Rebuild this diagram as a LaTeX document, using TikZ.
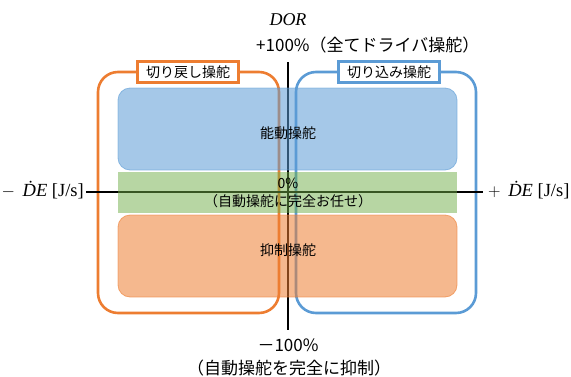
\documentclass[tikz,border=0pt]{standalone}
\usepackage{fontspec}
\setmainfont{Noto Sans CJK JP}
\newfontfamily\jp{Noto Sans CJK JP}
\newfontfamily\srf{Liberation Serif}
\definecolor{cblue}{HTML}{5B9BD5}
\definecolor{corange}{HTML}{ED7D31}
\definecolor{cgreen}{HTML}{70AD47}
\begin{document}
\begin{tikzpicture}[x=1pt,y=-1pt,
  outerbox/.style={line width=2.6pt,rounded corners=20pt},
  innerbox/.style={fill opacity=0.55,draw opacity=0.6,line width=0.8pt},
  tagbox/.style={draw,fill=white,line width=2.2pt,minimum width=101pt,minimum height=21pt,inner sep=0pt,font=\jp\fontsize{14}{16}\selectfont},
  midtxt/.style={font=\jp\fontsize{14}{16}\selectfont,inner sep=0pt},
  axtxt/.style={font=\jp\fontsize{17}{19}\selectfont,inner sep=0pt},
  sidetxt/.style={inner sep=0pt,font=\srf\fontsize{18.5}{20}\selectfont},
  axline/.style={line width=1.3pt}]
\useasboundingbox (0,0) rectangle (571,376);
% outer regions
\draw[outerbox,corange] (98,72) rectangle (279,313);
\draw[outerbox,cblue] (296,72) rectangle (476,313);
% axes
\coordinate (xl) at (86,192);
\coordinate (xr) at (483,192);
\coordinate (yt) at (288,62);
\coordinate (yb) at (288,330);
\draw[axline] (xl) -- (xr);
\draw[axline] (yt) -- (yb);
% inner boxes
\draw[innerbox,fill=cblue,draw=cblue,rounded corners=12pt] (118,88) rectangle (457,170);
\fill[fill=cgreen,fill opacity=0.5] (118,172) rectangle (457,213);
\draw[innerbox,fill=corange,draw=corange,rounded corners=12pt] (118,215) rectangle (457,297);
% texts in boxes
\node[midtxt] (nodo) at (288,133) {能動操舵};
\node[midtxt] (zero) at (288,183) {0\%};
\node[midtxt] (omakase) at (288,201) {（自動操舵に完全お任せ）};
\node[midtxt] (yokusei) at (288,250) {抑制操舵};
% tags
\node[tagbox,draw=corange] (modoshi) at (188,72) {切り戻し操舵};
\node[tagbox,draw=cblue] (komi) at (389,72) {切り込み操舵};
% axis labels
\node[inner sep=0pt,font=\srf\itshape\fontsize{18}{20}\selectfont] (dor) at (288,20) {DOR};
\node[axtxt,anchor=west] (plus) at (256,45) {+100\%（全てドライバ操舵）};
\node[axtxt] (minus) at (288,345) {－100\%};
\node[axtxt] (yokusei2) at (289,368) {（自動操舵を完全に抑制）};
\node[sidetxt,anchor=east] (left) at (84,190) {$-$\, {\itshape ḊE} [J/s]};
\node[sidetxt,anchor=west] (right) at (488,190) {$+$\, {\itshape ḊE} [J/s]};
\end{tikzpicture}
\end{document}
